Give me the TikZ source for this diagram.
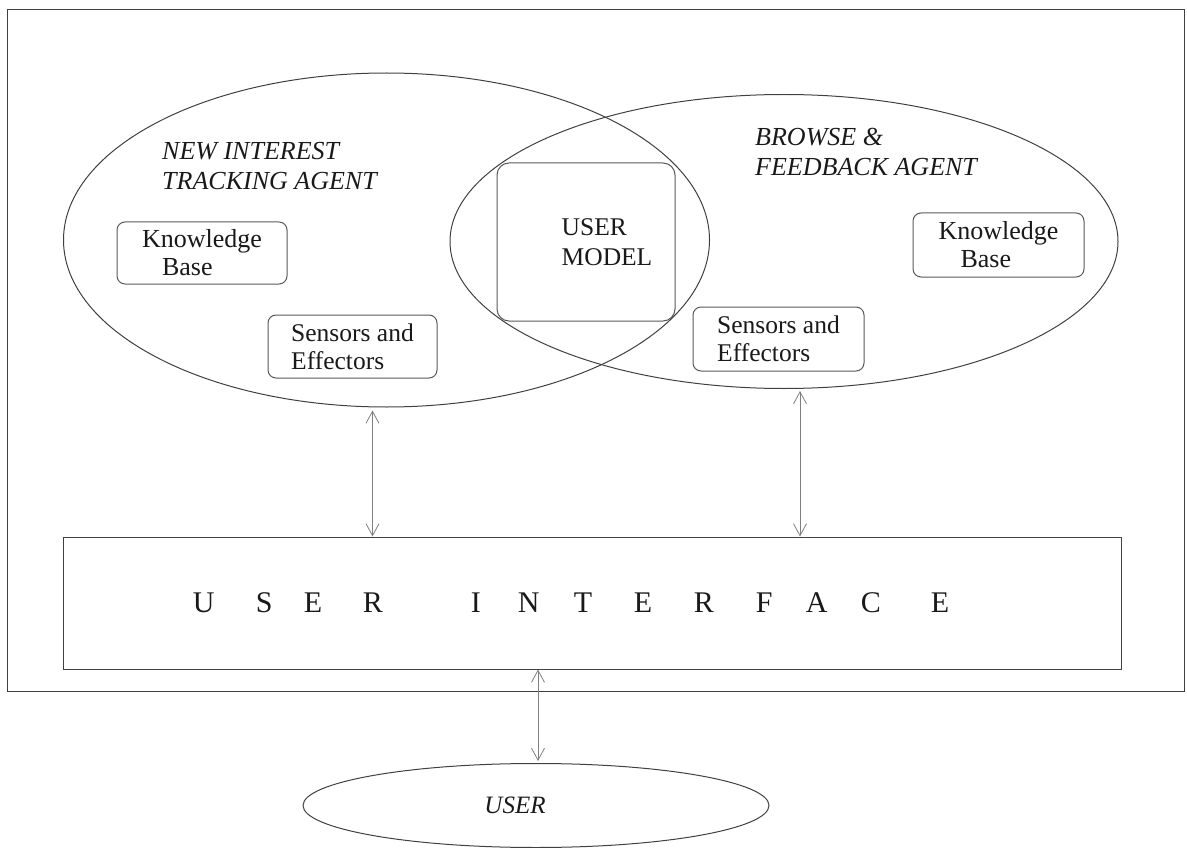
\documentclass[tikz,border=0pt]{standalone}
\usepackage{fontspec}
\setmainfont{LiberationSerif}[Extension=.ttf, UprightFont=*-Regular, ItalicFont=*-Italic,
  BoldFont=*-Bold, BoldItalicFont=*-BoldItalic]
\usetikzlibrary{shapes.geometric,arrows.meta}
\begin{document}
\begin{tikzpicture}[x=1pt,y=-1pt,
  ink/.style={draw=black!75, line width=1pt},
  agent/.style={ink, ellipse, inner sep=0pt},
  kbox/.style={draw=black!65, line width=1pt, rounded corners=8pt, inner sep=0pt,
    align=left, text=black!90, font=\fontsize{25.5}{28}\selectfont},
  title/.style={anchor=north west, inner sep=0pt, align=left, text=black!90,
    font=\fontsize{26}{30.5}\selectfont\itshape},
  conn/.style={draw=black!50, line width=0.8pt,
    {Straight Barb[length=12pt,width=13pt]}-{Straight Barb[length=12pt,width=13pt]}}
]
\useasboundingbox (0,0) rectangle (1187,848);

% outer frame of the agent system
\node[ink, inner sep=0pt, minimum width=1177pt, minimum height=681pt] (frame) at (595.5,350.5) {};

% the two agents, overlapping on the shared user model
\node[agent, minimum width=646pt, minimum height=334pt] (nta) at (386.5,240) {};
\node[agent, minimum width=668pt, minimum height=294pt] (bfa) at (784,241.5) {};

\node[title] (ntaT) at (162,142) {NEW INTEREST\\TRACKING AGENT};
\node[title] (bfaT) at (755,128) {BROWSE \&\\FEEDBACK AGENT};

% components of each agent
\node[kbox, minimum width=170pt, minimum height=62pt, font=\fontsize{26}{28}\selectfont] (kbL) at (202,253)
  {Knowledge\\\hspace*{20pt}Base\hspace*{-8pt}};
\node[kbox, minimum width=171pt, minimum height=64pt, font=\fontsize{26}{28}\selectfont] (kbR) at (998.5,245)
  {Knowledge\\\hspace*{22pt}Base};
\node[kbox, minimum width=169pt, minimum height=63pt] (seL) at (352.5,346.5) {Sensors and\\Effectors};
\node[kbox, minimum width=171pt, minimum height=64pt] (seR) at (778.5,339) {Sensors and\\Effectors};
\node[kbox, rounded corners=12pt, minimum width=178pt, minimum height=158pt,
  font=\fontsize{25.5}{30.5}\selectfont] (um) at (586,242) {\hspace*{42pt}USER\\\hspace*{42pt}MODEL};

% user interface bar
\node[ink, inner sep=0pt, minimum width=1058pt, minimum height=132pt, text=black!90,
  font=\fontsize{30}{36}\selectfont] (ui) at (592,603)
  {\makebox[63pt][l]{U}\makebox[48pt][l]{S}\makebox[59pt][l]{E}\makebox[108pt][l]{R}%
   \makebox[47pt][l]{I}\makebox[56pt][l]{N}\makebox[60pt][l]{T}\makebox[60pt][l]{E}%
   \makebox[62pt][l]{R}\makebox[50pt][l]{F}\makebox[55pt][l]{A}\makebox[70pt][l]{C}E\hspace*{42pt}};

% the user
\node[ink, ellipse, inner sep=0pt, minimum width=466pt, minimum height=84pt, text=black!90,
  font=\fontsize{25}{30}\selectfont\itshape] (user) at (536,805.5) {USER\hspace*{42pt}};

% two-way links
\draw[conn] ([xshift=-14pt,yshift=-3pt]nta.south) -- ([xshift=-14pt]nta.south |- ui.north);
\draw[conn] ([xshift=16pt,yshift=-2pt]bfa.south) -- ([xshift=16pt]bfa.south |- ui.north);
\draw[conn] ([xshift=2pt]user.north |- ui.south) -- ([xshift=2pt,yshift=2pt]user.north);
\end{tikzpicture}
\end{document}
